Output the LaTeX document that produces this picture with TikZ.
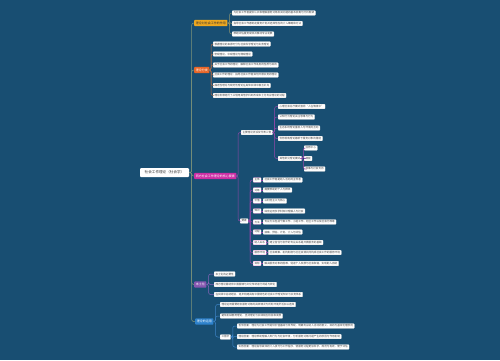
\documentclass[tikz,border=0pt]{standalone}
\usepackage{fontspec}
\setmainfont{Noto Sans CJK SC}
\usepackage{tikz}
\usetikzlibrary{positioning}
\usepackage{xcolor}
\definecolor{BgBlue} {RGB}{24, 78, 114}
\definecolor{Spine}  {RGB}{128,150,122}
\definecolor{BrA}    {RGB}{238,168, 32}
\definecolor{BrB}    {RGB}{232,102, 40}
\definecolor{BrC}    {RGB}{204, 46,164}
\definecolor{BrD}    {RGB}{134, 86,176}
\definecolor{BrE}    {RGB}{ 46,130,204}
\definecolor{LinkA}  {RGB}{140,146,112}
\definecolor{LinkB}  {RGB}{176,108, 72}
\definecolor{LinkC}  {RGB}{150, 72,170}
\definecolor{LinkD}  {RGB}{136,100,186}
\definecolor{LinkE}  {RGB}{ 62,132,200}

\begin{document}
\begin{tikzpicture}[x=1pt,y=-1pt,
    rootbox/.style={fill=white,rounded corners=1pt,minimum width=49pt,minimum height=9pt,
      inner sep=0pt,text=black!80,font=\fontsize{3.6}{4}\selectfont},
    branch/.style={fill=#1,rounded corners=0.8pt,inner xsep=1.6pt,inner ysep=0pt,
      minimum height=6.4pt,anchor=west,text=white,font=\fontsize{3}{3.4}\selectfont},
    leaf/.style={draw=black!15,line width=0.2pt,fill=white,rounded corners=0.6pt,
      inner xsep=1.4pt,inner ysep=0pt,minimum height=4.6pt,anchor=west,
      text=black!75,font=\fontsize{2.6}{3}\selectfont},
    tagbox/.style={leaf,draw=BrC!60},
    link/.style={draw=#1,line width=0.5pt,rounded corners=2pt}]
  \fill[BgBlue] (0,0) rectangle (500,360);

  % centre
  \node[rootbox] (root) at (164.5,172.5) {社会工作理论（社会学）};

  % main branches
  \node[branch=BrA,text=black!80] (b1) at (194,23)    {理论对社会工作的作用};
  \node[branch=BrB] (b2) at (194,70)    {理论分类};
  \node[branch=BrC] (b3) at (194,176)   {西方社会工作理论的核心要素};
  \node[branch=BrD] (b4) at (194,284.5) {本土化};
  \node[branch=BrE] (b5) at (195,321.5) {理论的运用};
  \foreach \b in {1,...,5}{
    \draw[link=Spine] (root.east) -- ++(2.5,0) |- (b\b.west);
  }

  % branch 1
  \foreach \n/\y/\t in {
    1/13/{为社会工作者提供认识和理解服务对象及其问题的基本视角与分析框架},
    2/23.5/{指导社会工作者制定服务计划并选择恰当的介入策略和方法},
    3/34/{帮助评估服务成效并推动专业发展}
  }{
    \node[leaf] (a\n) at (232,\y) {\t};
    \draw[link=LinkA] (b1.east) -- ++(2,0) |- (a\n.west);
  }

  % branch 2
  \foreach \n/\y/\t in {
    1/44/{根据理论的来源可分为社会科学理论与实务理论},
    2/54/{宏观理论、中观理论与微观理论},
    3/65/{关于社会工作的理论：解释社会工作本身的性质与目的},
    4/75/{社会工作的理论：指导社会工作者如何开展实务的理论},
    5/85.5/{描述性理论与规范性理论在具体实践中相互补充},
    6/95.5/{理论发展经历了从借用其他学科到形成本土化专业理论的过程}
  }{
    \node[leaf] (p\n) at (213,\y) {\t};
    \draw[link=LinkB] (b2.east) -- ++(1.5,0) |- (p\n.west);
  }

  % branch 3: schools
  \node[leaf] (s1) at (241,132.5) {主要理论流派及代表人物};
  \node[leaf] (s2) at (240,221) {要素};
  \foreach \s in {1,2}{
    \draw[link=LinkC] (b3.east) -- ++(1.5,0) |- (s\s.west);
  }
  \foreach \n/\y/\t in {
    1/106.5/{心理社会治疗模式强调“人在情境中”},
    2/117/{认知行为理论关注思维与行为},
    3/128/{生态系统理论重视人与环境的互动},
    4/138.5/{优势视角理论着眼于服务对象的潜能},
    5/158.5/{其他常见理论模式}
  }{
    \node[leaf] (c\n) at (278,\y) {\t};
    \draw[link=LinkC] (s1.east) -- ++(2,0) |- (c\n.west);
  }
  \foreach \n/\y/\t in {1/148/{任务中心},2/158.5/{增能},3/169/{叙事与社会支持}}{
    \node[leaf] (g\n) at (304,\y) {\t};
    \draw[link=LinkC] (c5.east) -- ++(1.5,0) |- (g\n.west);
  }

  % branch 3: elements
  \foreach \n/\y/\tg/\t in {
    1/180/{主体}/{社会工作者是助人活动的主导者},
    2/190/{对象}/{需要帮助的个人与群体},
    3/201/{价值}/{以利他主义为核心},
    4/211/{知识}/{综合运用多学科知识理解人与社会},
    5/222/{方法}/{专业方法包括个案工作、小组工作、社区工作以及社会行政等},
    6/232/{过程}/{接案、预估、计划、介入与评估},
    7/242.5/{助人关系}/{建立信任与合作的专业关系是开展服务的基础},
    8/252.5/{服务环境}/{社会政策、机构制度与社区资源共同构成社会工作的服务环境},
    9/263.5/{目标}/{解决服务对象的困难，促进个人发展与社会和谐，实现助人自助}
  }{
    \node[tagbox] (t\n) at (253,\y) {\tg};
    \node[leaf,right=1.8pt of t\n] (e\n) {\t};
    \draw[link=LinkC] (s2.east) -- ++(2,0) |- (t\n.west);
    \draw[link=LinkC] (t\n.east) -- (e\n.west);
  }

  % branch 4
  \foreach \n/\y/\t in {
    1/274/{本土化的必要性},
    2/284.5/{西方理论需结合中国国情与文化传统进行调适与转化},
    3/294.5/{在实践中总结经验，逐步构建具有中国特色的社会工作理论知识与实务体系}
  }{
    \node[leaf] (d\n) at (214,\y) {\t};
    \draw[link=LinkD] (b4.east) -- ++(2,0) |- (d\n.west);
  }

  % branch 5
  \node[leaf] (u1) at (220,304.5) {理论运用需要结合服务对象的具体情况与所处环境灵活加以选择};
  \node[leaf] (u2) at (220,316) {避免机械套用理论，坚持理论与实践相互检验和发展};
  \node[leaf] (u3) at (220,337) {三层次};
  \foreach \u in {1,2,3}{
    \draw[link=LinkE] (b5.east) -- ++(2,0) |- (u\u.west);
  }
  \foreach \n/\y/\t in {
    1/326/{哲学层面：理论为社会工作提供价值基础与世界观，明确专业助人活动的意义、目的与基本伦理原则},
    2/336.5/{理论层面：理论帮助理解人类行为与社会环境，分析服务对象问题产生的原因与作用机制},
    3/347/{实务层面：理论指导具体的介入技巧与工作程序，使服务过程更加科学、规范与有效，便于评估}
  }{
    \node[leaf] (v\n) at (237,\y) {\t};
    \draw[link=LinkE] (u3.east) -- ++(2,0) |- (v\n.west);
  }
\end{tikzpicture}
\end{document}
